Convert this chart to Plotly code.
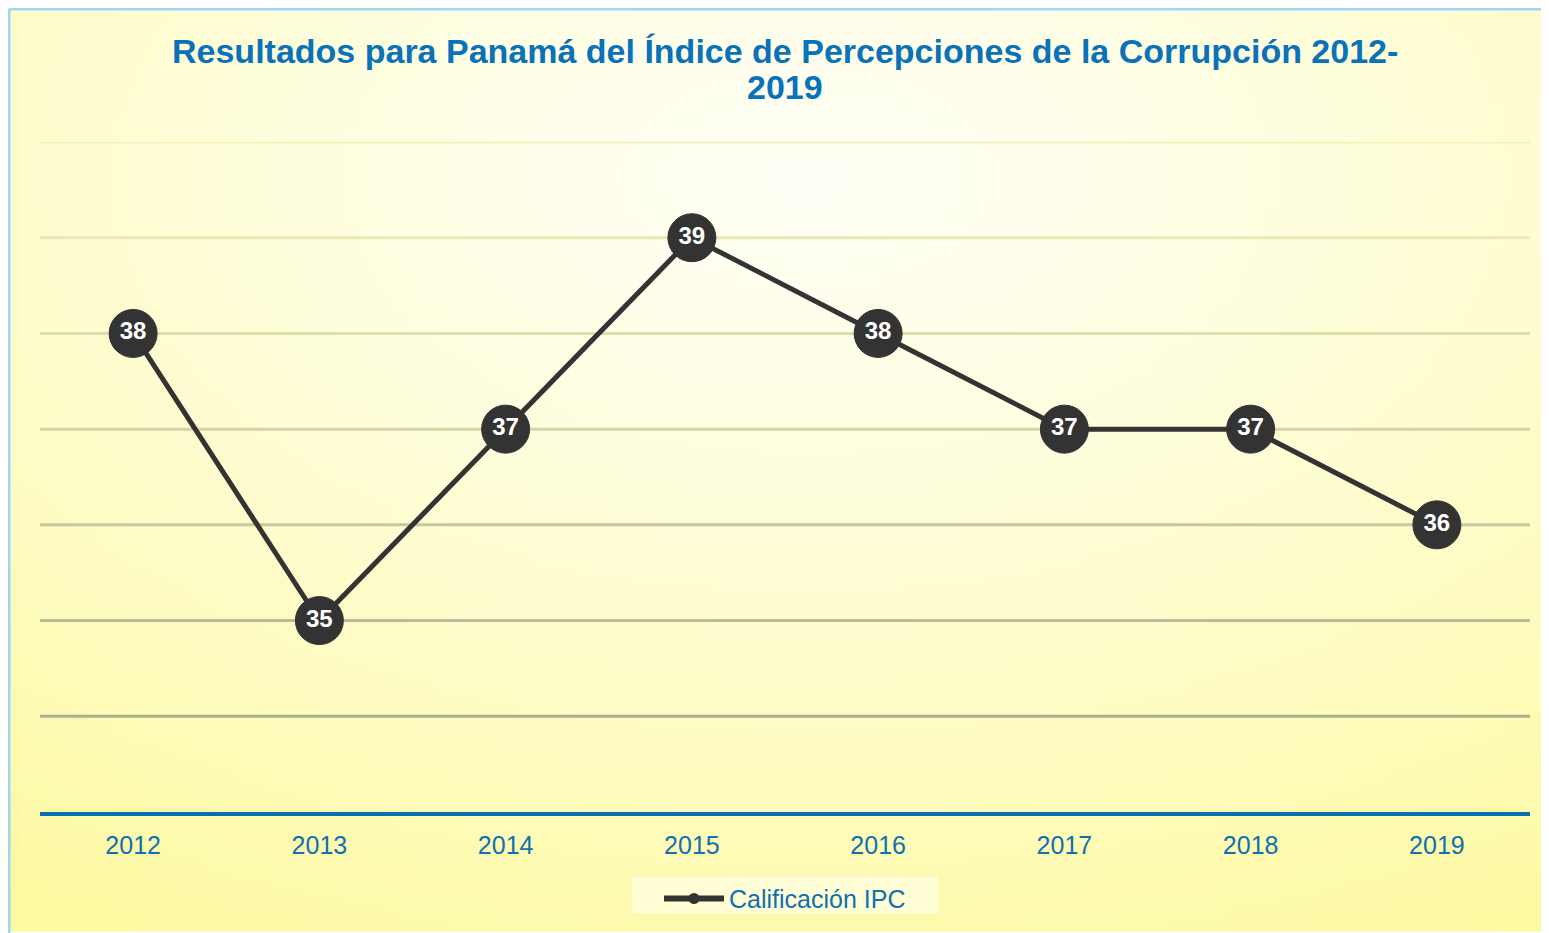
import base64
import struct
import zlib

import plotly.graph_objects as go

# ---------------- data ----------------
years = ["2012", "2013", "2014", "2015", "2016", "2017", "2018", "2019"]
scores = [38, 35, 37, 39, 38, 37, 37, 36]
series_name = "Calificación IPC"
title_lines = ["Resultados para Panamá del Índice de Percepciones de la Corrupción 2012-", "2019"]
grid_values = [34, 35, 36, 37, 38, 39, 40]
grid_colors = ["#aab08f", "#b9bd97", "#c6c89f", "#d4d4a8", "#dfdeaf", "#e9e8b6", "#f1efb4"]

# ---------------- figure geometry ----------------
W, H = 1541, 926
ML, MR, MT, MB = 32, 19, 134, 120
PW = W - ML - MR
PH = H - MT - MB

DARK = "#333333"
FONT = "Arial, Liberation Sans"


def gradient_png(w, h):
    rows = []
    cx, cy = 0.52, 0.18
    c0 = (255, 255, 246)
    c1 = (252, 249, 158)
    maxd = ((0.52) ** 2 + (0.82) ** 2) ** 0.5
    for j in range(h):
        row = bytearray([0])
        fy = j / (h - 1)
        for i in range(w):
            fx = i / (w - 1)
            d = ((fx - cx) ** 2 + (fy - cy) ** 2) ** 0.5 / maxd
            t = min(1.0, d) ** 1.2
            row += bytes(int(round(c0[k] + (c1[k] - c0[k]) * t)) for k in range(3))
        rows.append(bytes(row))
    raw = b"".join(rows)

    def chunk(tag, data):
        c = struct.pack(">I", len(data)) + tag + data
        return c + struct.pack(">I", zlib.crc32(tag + data) & 0xFFFFFFFF)

    png = b"\x89PNG\r\n\x1a\n"
    png += chunk(b"IHDR", struct.pack(">IIBBBBB", w, h, 8, 2, 0, 0, 0))
    png += chunk(b"IDAT", zlib.compress(raw, 9))
    png += chunk(b"IEND", b"")
    return "data:image/png;base64," + base64.b64encode(png).decode()


fig = go.Figure()

# main line with markers and value labels
fig.add_trace(go.Scatter(
    x=years, y=scores, mode="lines+markers+text",
    text=[str(v) for v in scores], textposition="middle center",
    textfont=dict(color="white", size=24, family=FONT, weight="bold"),
    line=dict(color=DARK, width=5),
    marker=dict(size=48, color=DARK, line=dict(color=DARK, width=1)),
    showlegend=False, cliponaxis=False, hoverinfo="x+y",
))
# legend entry
fig.add_trace(go.Scatter(
    x=[None], y=[None], mode="lines+markers", name=series_name,
    line=dict(color=DARK, width=6), marker=dict(size=11, color=DARK),
    showlegend=True,
))

shapes = []
for v, c in zip(grid_values, grid_colors):
    shapes.append(dict(type="line", xref="paper", yref="y", x0=0, x1=1, y0=v, y1=v,
                       line=dict(color=c, width=3), layer="below"))
# frame border (left + top)
fx0 = -(ML - 1) / PW
fy1 = 1 + (MT - 0.5) / PH
shapes.append(dict(type="line", xref="paper", yref="paper", x0=fx0, x1=fx0, y0=-MB / PH - 0.1, y1=fy1,
                   line=dict(color="#9fd5f7", width=3)))
shapes.append(dict(type="line", xref="paper", yref="paper", x0=fx0, x1=1 + MR / PW + 0.1, y0=fy1, y1=fy1,
                   line=dict(color="#9fd5f7", width=3)))
# legend background box
shapes.append(dict(type="rect", xref="paper", yref="paper",
                   x0=(632 - 8 - ML) / PW, x1=(938 - 8 - ML) / PW,
                   y0=-(915 - 7 - MT - PH) / PH, y1=-(878 - 7 - MT - PH) / PH,
                   fillcolor="rgba(255,255,225,0.75)", line=dict(width=0), layer="below"))

annotations = []
for line_text, y_px in zip(title_lines, [43, 79]):
    annotations.append(dict(text=line_text, xref="paper", yref="paper", x=0.5, xanchor="center",
                            y=1 + (MT - y_px) / PH, yanchor="middle", showarrow=False,
                            font=dict(family=FONT, size=34, color="#0a72b8", weight="bold")))

fig.update_layout(
    width=W, height=H,
    margin=dict(l=ML, r=MR, t=MT, b=MB),
    paper_bgcolor="white",
    plot_bgcolor="rgba(0,0,0,0)",
    images=[dict(source=gradient_png(160, 96), xref="paper", yref="paper",
                 x=-ML / PW, y=1 + MT / PH, sizex=W / PW, sizey=H / PH,
                 sizing="stretch", xanchor="left", yanchor="top", layer="below")],
    xaxis=dict(type="category", showgrid=False, zeroline=False, showline=True,
               linecolor="#0a6fae", linewidth=4, ticks="",
               tickfont=dict(family=FONT, size=25, color="#1070b0"),
               range=[-0.5, len(years) - 0.5], ticklabelstandoff=8),
    yaxis=dict(range=[33, 40], showgrid=False, zeroline=False, showticklabels=False,
               showline=False, ticks=""),
    legend=dict(orientation="h", x=0.5, xanchor="center", y=-(893 - 806) / PH, yanchor="middle",
                bgcolor="rgba(0,0,0,0)", itemwidth=60,
                font=dict(family=FONT, size=25, color="#1070b0")),
    shapes=shapes,
    annotations=annotations,
    showlegend=True,
)

fig.write_html("out.html")
